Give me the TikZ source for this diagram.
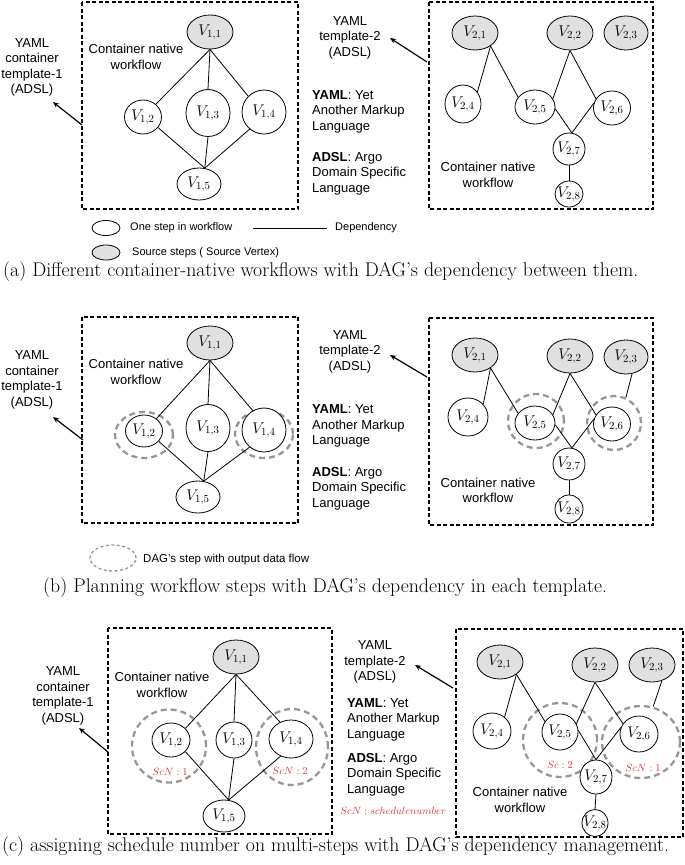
\RequirePackage{fix-cm}
\documentclass[tikz,border=0pt]{standalone}
\usepackage{fontspec}
\setsansfont{Liberation Sans}
\usetikzlibrary{shapes.geometric,arrows.meta}
\pgfdeclarelayer{bg}
\pgfsetlayers{bg,main}
\definecolor{srcgray}{RGB}{224,224,224}
\definecolor{dgray}{RGB}{150,150,150}
\definecolor{scred}{RGB}{228,50,50}
\newcommand\vnode[6][vtx]{\node[#1, minimum width=#4, minimum height=#5, label={[vlab]center:$V_{#6}$}] (#2) at #3 {};}
\tikzset{
  vtx/.style={ellipse, draw, line width=0.8pt, fill=white, inner sep=0pt},
  src/.style={vtx, fill=srcgray},
  vlab/.style={font=\fontsize{15.5}{15.5}\selectfont, inner sep=0pt},
  box/.style={draw, line width=1.1pt, dash pattern=on 4pt off 2.5pt},
  dring/.style={ellipse, draw=dgray, line width=2.3pt, dash pattern=on 6pt off 4pt, inner sep=0pt},
  dep/.style={line width=0.8pt},
  lbl/.style={font=\sffamily\fontsize{13}{15.5}\selectfont, align=center, inner sep=0pt},
  lbll/.style={lbl, align=left, anchor=west},
  leg/.style={font=\sffamily\fontsize{11}{13}\selectfont, anchor=west, inner sep=0pt},
  captext/.style={font=\fontsize{19.8}{22}\selectfont, anchor=west, inner sep=0pt},
  sctext/.style={text=scred, font=\fontsize{10.5}{12}\selectfont, inner sep=0pt},
  ptr/.style={-{Stealth[length=6pt,width=5pt]}, line width=1.2pt}
}
\begin{document}
\begin{tikzpicture}[x=1pt,y=-1pt]
\useasboundingbox (0,0) rectangle (685,865);

%% ================= PANEL (a) =================
\draw[box] (82,2) rectangle (298,209);
\vnode[src]{aL11}{(210,32)}{46}{34}{1,1}
\vnode{aL12}{(143,117)}{37}{34}{1,2}
\vnode{aL13}{(208,113)}{44}{47}{1,3}
\vnode{aL14}{(264,112)}{44}{44}{1,4}
\vnode{aL15}{(199,184)}{44}{32}{1,5}
\begin{pgfonlayer}{bg}
\draw[dep] (aL11.south) -- (aL12.45);
\draw[dep] (aL11.south) -- (aL13.north);
\draw[dep] (aL11.south) -- (aL14.135);
\draw[dep] (aL12.-35) -- (aL15.70);
\draw[dep] (aL13.south) -- (aL15.70);
\draw[dep] (aL14.-130) -- (aL15.70);
\end{pgfonlayer}
\node[lbl] (aTL) at (32,67.5) {YAML\\container\\template-1\\(ADSL)};
\node[lbl] (aCL) at (136,57) {Container native\\workflow};
\coordinate (aPL) at (82,125);
\coordinate (aQL) at (53,102);
\draw[ptr] (aPL) -- (aQL);

\draw[box] (429,2) rectangle (653,209);
\vnode[src]{aR21}{(475,33)}{46}{34}{2,1}
\vnode[src]{aR22}{(570,33)}{46}{34}{2,2}
\vnode[src]{aR23}{(626,33)}{44}{34}{2,3}
\vnode{aR24}{(463,104)}{36}{38}{2,4}
\vnode{aR25}{(535,107)}{40}{34}{2,5}
\vnode{aR26}{(612,108)}{37}{34}{2,6}
\vnode{aR27}{(569,149)}{32}{32}{2,7}
\vnode{aR28}{(569,194)}{28}{26}{2,8}
\begin{pgfonlayer}{bg}
\draw[dep] (aR21.-40) -- (aR24.40);
\draw[dep] (aR21.-40) -- (aR25.150);
\draw[dep] (aR22.south) -- (aR25.25);
\draw[dep] (aR22.south) -- (aR26.150);
\draw[dep] (aR25.-5) -- (aR27.80);
\draw[dep] (aR26.165) -- (aR27.80);
\draw[dep] (aR27.south) -- (aR28.north);
\end{pgfonlayer}
\node[lbl] (aTR) at (350,37.5) {YAML\\template-2\\(ADSL)};
\coordinate (aPR) at (427,62);
\coordinate (aQR) at (390,38);
\draw[ptr] (aPR) -- (aQR);
\node[lbll] (aD1) at (312,111.5) {\textbf{YAML}: Yet\\Another Markup\\Language};
\node[lbll] (aD2) at (312,173.5) {\textbf{ADSL}: Argo\\Domain Specific\\Language};
\node[lbl] (aCR) at (488,175) {Container native\\workflow};

% legend (a)
\node[vtx, minimum width=28, minimum height=15] (legS) at (106,228) {};
\node[src, minimum width=28, minimum height=15] (legG) at (106,252.5) {};
\node[leg] (legT1) at (130,228) {One step in workflow};
\coordinate (legA) at (253,228);
\coordinate (legB) at (327,228);
\draw[dep] (legA) -- (legB);
\node[leg] (legT2) at (335,228) {Dependency};
\node[leg] (legT3) at (132,252.5) {Source steps ( Source Vertex)};
\node[captext] (capA) at (3,272) {(a) Different container-native workflows with DAG's dependency between them.};

%% ================= PANEL (b) =================
\draw[box] (82,317) rectangle (298,523);
\vnode[src]{bL11}{(210,343)}{46}{34}{1,1}
\vnode{bL12}{(144,431)}{37}{32}{1,2}
\vnode{bL13}{(208,428)}{44}{47}{1,3}
\vnode{bL14}{(264,430)}{44}{44}{1,4}
\vnode{bL15}{(198,497)}{44}{32}{1,5}
\begin{pgfonlayer}{bg}
\node[dring, minimum width=58, minimum height=46] (bLd12) at (144,435) {};
\node[dring, minimum width=58, minimum height=48] (bLd14) at (264,434) {};
\draw[dep] (bL11.south) -- (bL12.45);
\draw[dep] (bL11.south) -- (bL13.north);
\draw[dep] (bL11.south) -- (bL14.120);
\draw[dep] (bL12.-35) -- (bL15.70);
\draw[dep] (bL13.south) -- (bL15.70);
\draw[dep] (bL14.-130) -- (bL15.70);
\end{pgfonlayer}
\node[lbl] (bTL) at (32,380) {YAML\\container\\template-1\\(ADSL)};
\node[lbl] (bCL) at (136,372) {Container native\\workflow};
\coordinate (bPL) at (83,440);
\coordinate (bQL) at (53,417);
\draw[ptr] (bPL) -- (bQL);

\draw[box] (429,318) rectangle (653,525);
\vnode[src]{bR21}{(475,355)}{46}{34}{2,1}
\vnode[src]{bR22}{(570,356)}{46}{34}{2,2}
\vnode[src]{bR23}{(626,357)}{44}{34}{2,3}
\vnode{bR24}{(468,417)}{40}{38}{2,4}
\vnode{bR25}{(535,423)}{40}{34}{2,5}
\vnode{bR26}{(612,424)}{37}{34}{2,6}
\vnode{bR27}{(569,464)}{32}{32}{2,7}
\vnode{bR28}{(569,509)}{28}{28}{2,8}
\begin{pgfonlayer}{bg}
\node[dring, minimum width=56, minimum height=54] (bRd25) at (536,421) {};
\node[dring, minimum width=54, minimum height=54] (bRd26) at (614,423) {};
\draw[dep] (bR21.-40) -- (bR24.40);
\draw[dep] (bR21.-40) -- (bR25.150);
\draw[dep] (bR22.south) -- (bR25.25);
\draw[dep] (bR22.south) -- (bR26.150);
\draw[dep] (bR25.-5) -- (bR27.80);
\draw[dep] (bR26.165) -- (bR27.80);
\draw[dep] (bR27.south) -- (bR28.north);
\draw[dep] (bR23.-70) -- (bRd26.65);
\end{pgfonlayer}
\node[lbl] (bTR) at (350,351.5) {YAML\\template-2\\(ADSL)};
\coordinate (bPR) at (427,377);
\coordinate (bQR) at (390,355);
\draw[ptr] (bPR) -- (bQR);
\node[lbll] (bD1) at (312,426) {\textbf{YAML}: Yet\\Another Markup\\Language};
\node[lbll] (bD2) at (312,488.5) {\textbf{ADSL}: Argo\\Domain Specific\\Language};
\node[lbl] (bCR) at (488,490.5) {Container native\\workflow};

% legend (b)
\node[ellipse, draw=dgray, line width=1.3pt, dash pattern=on 3pt off 2.5pt, minimum width=46, minimum height=26, inner sep=0pt] (legD) at (113,558) {};
\node[leg, font=\sffamily\fontsize{11.5}{13}\selectfont] (legT4) at (143,560) {DAG's step with output data flow};
\node[captext] (capB) at (43,588) {(b) Planning workflow steps with DAG's dependency in each template.};

%% ================= PANEL (c) =================
\draw[box] (108,628) rectangle (332,834);
\vnode[src]{cL11}{(236,657)}{46}{34}{1,1}
\vnode{cL12}{(171,740)}{38}{34}{1,2}
\vnode{cL13}{(234,740)}{36}{36}{1,3}
\vnode{cL14}{(291,739)}{44}{38}{1,4}
\vnode{cL15}{(224,816)}{42}{32}{1,5}
\begin{pgfonlayer}{bg}
\node[dring, minimum width=74, minimum height=73] (cLd12) at (169,746) {};
\node[dring, minimum width=72, minimum height=76] (cLd14) at (292,747) {};
\draw[dep] (cL11.south) -- (cL12.39);
\draw[dep] (cL11.south) -- (cL13.north);
\draw[dep] (cL11.south) -- (cL14.123);
\draw[dep] (cL12.-39) -- (cL15.74);
\draw[dep] (cL13.south) -- (cL15.74);
\draw[dep] (cL14.-121) -- (cL15.74);
\end{pgfonlayer}
\node[sctext] (cS1) at (170,772) {$ScN : 1$};
\node[sctext] (cS2) at (290,771) {$ScN : 2$};
\node[lbl] (cTL) at (63,696) {YAML\\container\\template-1\\(ADSL)};
\node[lbl] (cCL) at (162,685) {Container native\\workflow};
\coordinate (cPL) at (108,752);
\coordinate (cQL) at (79,728);
\draw[ptr] (cPL) -- (cQL);

\draw[box] (456,629) rectangle (683,837);
\vnode[src]{cR21}{(500,662)}{46}{34}{2,1}
\vnode[src]{cR22}{(595,665)}{46}{34}{2,2}
\vnode[src]{cR23}{(652,665)}{46}{34}{2,3}
\vnode{cR24}{(492,731)}{38}{36}{2,4}
\vnode{cR25}{(560,732)}{36}{36}{2,5}
\vnode{cR26}{(639,734)}{38}{36}{2,6}
\vnode{cR27}{(596,777)}{32}{34}{2,7}
\vnode{cR28}{(595,823)}{26}{27}{2,8}
\begin{pgfonlayer}{bg}
\node[dring, minimum width=74, minimum height=74] (cRd25) at (560,740) {};
\node[dring, minimum width=78, minimum height=72] (cRd26) at (641,742) {};
\draw[dep] (cR21.-37) -- (cR24.48);
\draw[dep] (cR21.-37) -- (cR25.145);
\draw[dep] (cR22.south) -- (cR25.27);
\draw[dep] (cR22.south) -- (cR26.147);
\draw[dep] (cR25.5) -- (cR27.north);
\draw[dep] (cR26.160) -- (cR27.north);
\draw[dep] (cR27.south) -- (cR28.north);
\draw[dep] (cR23.-58) -- (cRd26.71);
\end{pgfonlayer}
\node[sctext] (cS3) at (560,765) {$Sc : 2$};
\node[sctext] (cS4) at (643,768) {$ScN : 1$};
\node[lbl] (cTR) at (375,662) {YAML\\template-2\\(ADSL)};
\coordinate (cPR) at (453,688);
\coordinate (cQR) at (415,665);
\draw[ptr] (cPR) -- (cQR);
\node[lbll] (cD1) at (347,719.5) {\textbf{YAML}: Yet\\Another Markup\\Language};
\node[lbll] (cD2) at (347,774.5) {\textbf{ADSL}: Argo\\Domain Specific\\Language};
\node[sctext, anchor=west] (cS5) at (340,811) {$ScN : schedulenumber$};
\node[lbl] (cCR) at (520,800) {Container native\\workflow};
\node[captext] (capC) at (2,847) {(c) assigning schedule number on multi-steps with DAG's dependency management.};
\end{tikzpicture}
\end{document}
